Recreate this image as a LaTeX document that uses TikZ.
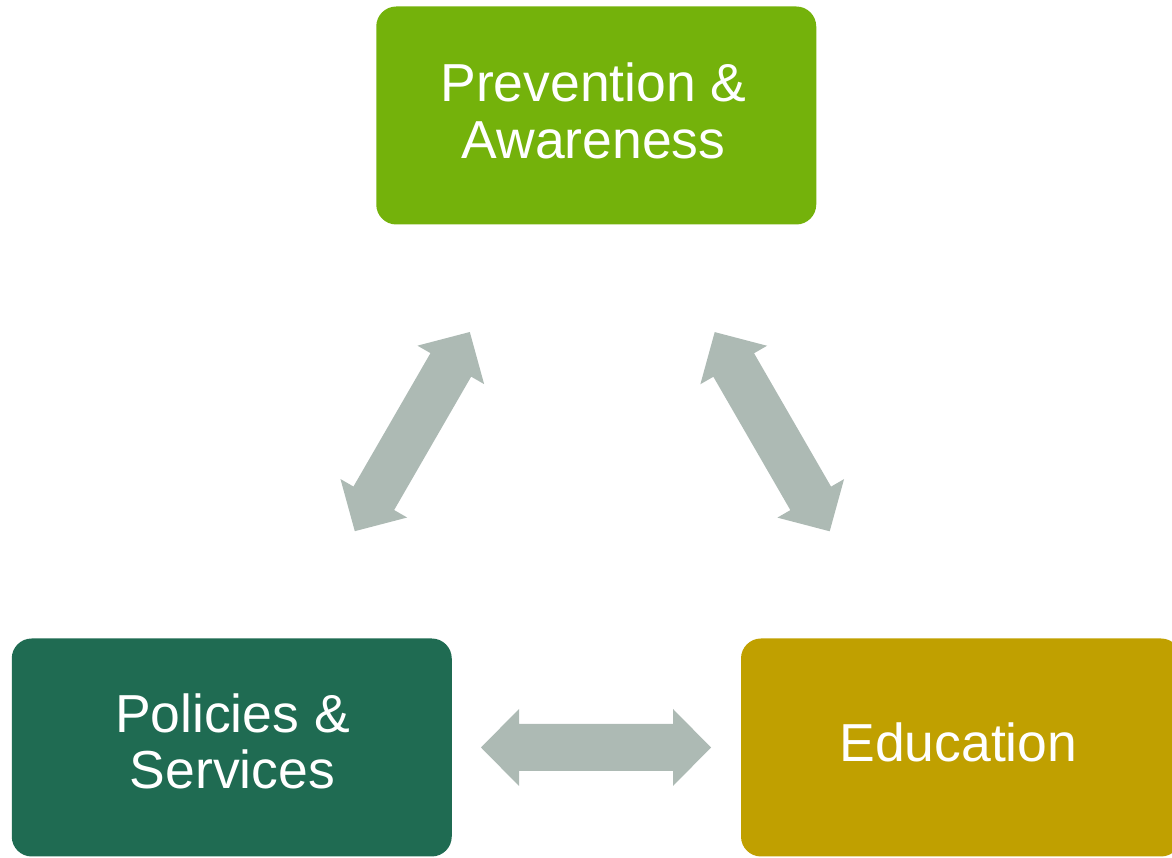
\documentclass[tikz,border=0pt]{standalone}
\usepackage{fontspec}
\setmainfont{Liberation Sans}
\definecolor{topgreen}{RGB}{116,178,11}
\definecolor{darkgreen}{RGB}{31,107,82}
\definecolor{goldbox}{RGB}{192,160,0}
\definecolor{arrowgray}{RGB}{173,186,180}
\newcommand\blockarrow[3]{%
  \begin{scope}[shift={(#1,#2)}, rotate=#3]
    \fill[barrow] (-115,0) -- (-77,38.5) -- (-77,23.5) -- (77,23.5) -- (77,38.5)
      -- (115,0) -- (77,-38.5) -- (77,-23.5) -- (-77,-23.5) -- (-77,-38.5) -- cycle;
  \end{scope}}
\begin{document}
\begin{tikzpicture}[x=1pt,y=1pt,
  box/.style={rounded corners=20pt, minimum width=440pt, minimum height=218pt, inner sep=0pt, outer sep=0pt, draw=none},
  lbl/.style={text=white, font=\fontsize{53.5}{56.6}\selectfont, align=center, inner sep=0pt},
  barrow/.style={fill=arrowgray}]
\useasboundingbox (0,0) rectangle (1172,858);
\clip (0,0) rectangle (1172,858);
\node[box, fill=topgreen] (prev) at (596.25,742.5) {};
\node[box, fill=darkgreen] (pol) at (231.75,110.5) {};
\node[box, fill=goldbox] (edu) at (961,110.5) {};
\node[lbl] (prevtext) at (593.5,747.2) {Prevention \&\\Awareness};
\node[lbl] (poltext) at (232.5,116.7) {Policies \&\\Services};
\node[lbl] (edutext) at (958.3,115.5) {Education};
\blockarrow{596}{110.5}{0}
\blockarrow{412.3}{426.4}{60}
\blockarrow{772.2}{426.3}{-60}
\end{tikzpicture}
\end{document}
